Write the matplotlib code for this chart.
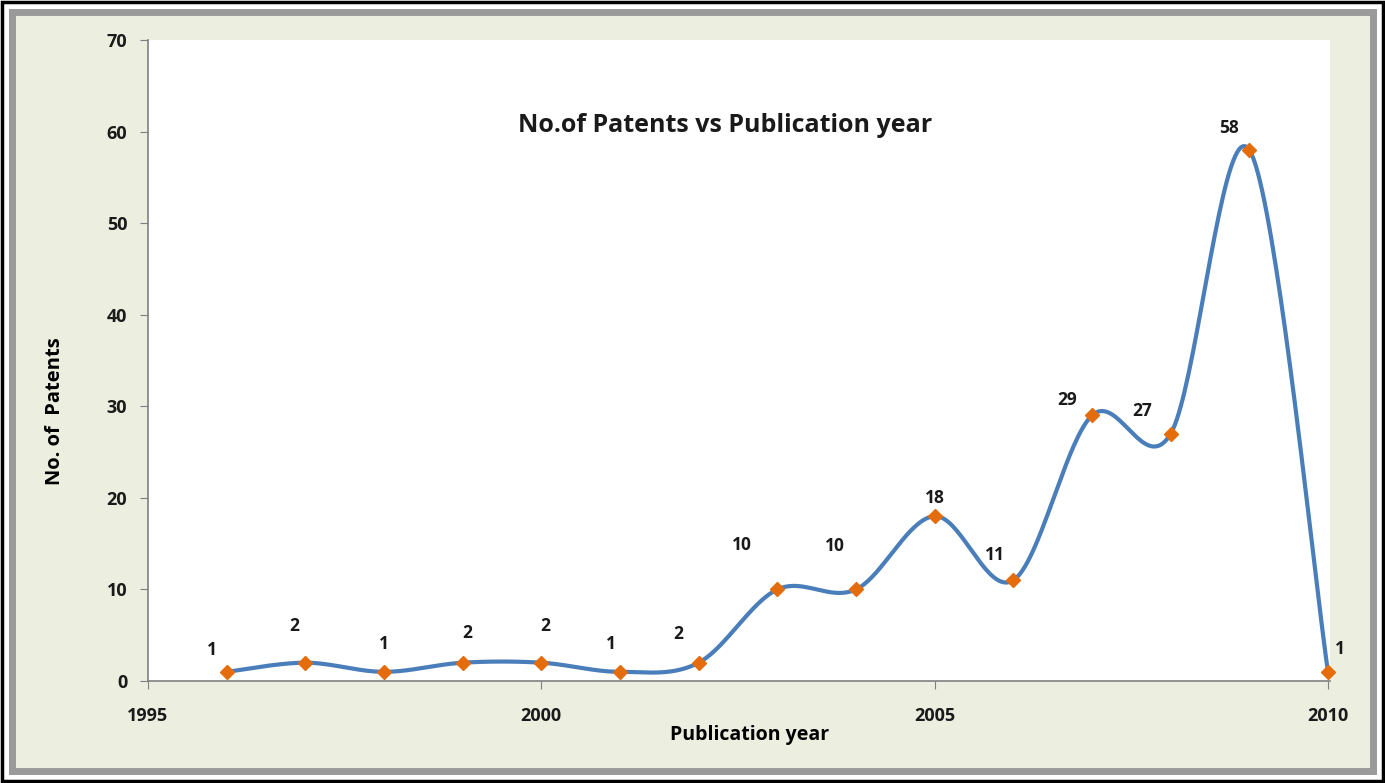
import matplotlib.pyplot as plt
import matplotlib.patches as mpatches
import numpy as np

# data
years = [1996, 1997, 1998, 1999, 2000, 2001, 2002, 2003, 2004, 2005, 2006, 2007, 2008, 2009, 2010]
patents = [1, 2, 1, 2, 2, 1, 2, 10, 10, 18, 11, 29, 27, 58, 1]
yticks = [0, 10, 20, 30, 40, 50, 60, 70]
xticks = [1995, 2000, 2005, 2010]

# label offsets in pixels (dx, dy)
lab_off = [(-15, 22), (-11, 37), (0, 28), (5, 30), (4, 37), (-9, 28), (-20, 29), (-35, 44),
           (-21, 43), (0, 18), (-18, 25), (-25, 15), (-29, 23), (-20, 22), (12, 23)]

W, H = 1385, 783
fig = plt.figure(figsize=(W / 100, H / 100), dpi=100)
fig.patch.set_facecolor('white')

# outer frame
fig.patches.append(mpatches.Rectangle((2 / W, 2 / H), 1 - 4 / W, 1 - 4 / H, transform=fig.transFigure,
                                      fill=False, ec='black', lw=2.5, zorder=-2))
fig.patches.append(mpatches.Rectangle((12 / W, 12 / H), 1 - 24 / W, 1 - 24 / H, transform=fig.transFigure,
                                      fc='#eceee0', ec='#9a9a9a', lw=5, zorder=-1))

ax_l, ax_r, ax_b, ax_t = 148, 1330, 681, 40
ax = fig.add_axes([ax_l / W, (H - ax_b) / H, (ax_r - ax_l) / W, (ax_b - ax_t) / H])
ax.set_facecolor('white')
ax.set_xlim(1995, 1995 + 15 * (ax_r - ax_l) / (1328 - ax_l))
ax.set_ylim(0, 70)

# smoothed line (Catmull-Rom in pixel space, like Excel smoothing)
sx = (1328 - ax_l) / 15.0
sy = (ax_b - ax_t) / 70.0
P = np.column_stack([(np.array(years) - 1995) * sx, np.array(patents) * sy])
pts = []
n = len(P)
for i in range(n - 1):
    p0 = P[i - 1] if i > 0 else P[i]
    p1 = P[i]
    p2 = P[i + 1]
    p3 = P[i + 2] if i + 2 < n else P[i + 1]
    c1 = p1 + (p2 - p0) / 6.0
    c2 = p2 - (p3 - p1) / 6.0
    t = np.linspace(0, 1, 40)[:, None]
    seg = (1 - t) ** 3 * p1 + 3 * (1 - t) ** 2 * t * c1 + 3 * (1 - t) * t ** 2 * c2 + t ** 3 * p2
    pts.append(seg)
pts = np.vstack(pts)
ax.plot(pts[:, 0] / sx + 1995, pts[:, 1] / sy, color='#4a7ebb', lw=3, solid_capstyle='round', zorder=3)
ax.plot(years, patents, ls='none', marker='D', ms=7, color='#e46c0a', mec='#e46c0a', zorder=4, clip_on=False)

for x, y, (dx, dy) in zip(years, patents, lab_off):
    ax.annotate(str(y), (x, y), xytext=(dx, dy), textcoords='offset pixels', ha='center', va='center',
                fontsize=12.5, fontweight='bold', color='#1a1a1a', family='Open Sans')

for s in ['top', 'right']:
    ax.spines[s].set_visible(False)
for s in ['left', 'bottom']:
    ax.spines[s].set_color('#808080')
    ax.spines[s].set_linewidth(1.2)

ax.set_xticks(xticks)
ax.set_yticks(yticks)
ax.tick_params(direction='out', length=6, color='#808080', labelsize=13, pad=13)
for lb in ax.get_xticklabels() + ax.get_yticklabels():
    lb.set_fontweight('bold')
    lb.set_family('Open Sans')
    lb.set_color('#1a1a1a')
ax.tick_params(axis='y', pad=9)

ax.set_xlabel('Publication year', fontsize=14, fontweight='bold', family='Open Sans')
ax.set_ylabel('No. of  Patents', fontsize=14.5, fontweight='bold', family='Open Sans')
ax.xaxis.set_label_coords(0.509, -0.084)
ax.yaxis.set_label_coords(-0.079, 0.421)
ax.xaxis.label.set_va('center')
ax.yaxis.label.set_va('center')
ax.text(0.488, 0.867, 'No.of Patents vs Publication year', transform=ax.transAxes, ha='center', va='center',
        fontsize=18, fontweight='bold', family='Open Sans', color='#1a1a1a')

fig.savefig('out.png', dpi=100, facecolor=fig.get_facecolor())
